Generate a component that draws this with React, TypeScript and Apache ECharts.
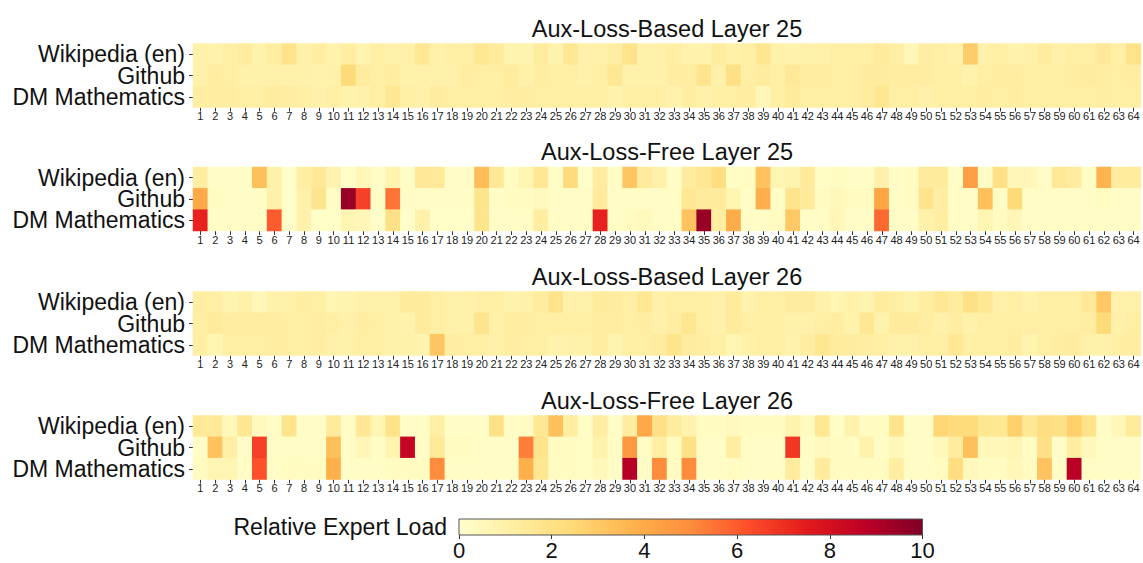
import React, { useEffect, useRef } from "react";
import * as echarts from "echarts";

// Expert indices 1..64
const experts: string[] = Array.from({ length: 64 }, (_, i) => String(i + 1));
const domains: string[] = ["Wikipedia (en)", "Github", "DM Mathematics"];
const panelTitles: string[] = [
  "Aux-Loss-Based Layer 25",
  "Aux-Loss-Free Layer 25",
  "Aux-Loss-Based Layer 26",
  "Aux-Loss-Free Layer 26",
];

// Relative expert load per domain
const basedL25Wiki = [1.0,0.9,1.1,1.3,0.9,1.2,1.9,1.0,1.2,0.9,1.2,0.8,1.1,1.0,1.0,1.6,1.0,1.1,1.1,1.6,1.4,0.8,0.8,1.3,0.9,1.6,1.0,1.0,1.2,1.9,1.0,1.0, 1.1,0.9,0.9,1.3,1.0,1.1,1.7,1.0,0.9,1.0,1.0,1.1,1.1,1.1,1.4,1.1,0.6,1.2,1.1,1.0,2.9,1.0,1.1,0.9,1.0,1.3,1.0,1.1,1.1,1.5,1.1,1.9];
const basedL25Github = [1.0,1.2,1.1,1.0,1.0,1.0,1.0,1.0,0.9,1.0,2.4,1.3,1.1,1.2,1.0,1.0,1.0,1.0,1.2,1.1,1.1,1.3,1.0,1.2,1.1,1.1,1.0,1.1,1.6,1.0,1.0,1.0, 1.2,1.2,1.8,1.0,2.0,1.1,1.3,1.1,1.5,1.2,1.2,1.1,1.1,1.3,1.3,1.2,1.2,1.2,1.1,1.1,0.9,1.1,1.2,1.2,1.1,1.1,1.1,1.2,1.3,1.2,1.1,1.2];
const basedL25Dm = [1.2,1.2,1.2,1.1,1.1,1.3,1.2,1.1,1.0,1.1,0.9,1.0,1.1,1.6,1.1,1.0,1.3,1.1,1.1,1.1,1.1,1.2,1.2,1.1,1.1,1.1,1.1,1.1,0.9,1.1,1.1,1.1, 0.9,1.2,1.0,1.1,1.1,1.2,0.6,1.1,1.4,1.1,1.1,1.1,1.1,1.3,1.7,1.1,1.1,1.0,1.1,1.1,1.1,1.2,1.1,1.2,1.1,1.1,1.1,1.1,1.1,1.2,1.1,1.1];

const freeL25Wiki = [1.2,0.2,0.2,0.2,3.3,1.0,0.1,1.1,1.5,0.8,0.1,0.6,0.2,0.8,0.2,1.5,1.5,0.2,0.2,3.4,1.5,0.3,0.7,1.6,0.2,2.3,0.1,1.3,0.2,3.1,1.4,1.0, 0.2,1.3,1.6,2.2,0.2,0.3,3.2,0.7,0.8,1.4,0.2,0.3,0.2,0.2,1.0,0.2,0.3,1.4,1.4,0.2,4.4,0.2,2.0,0.6,0.6,0.2,1.5,1.3,0.2,3.7,1.3,1.3];
const freeL25Github = [4.1,0.3,0.2,0.2,0.2,1.0,0.1,1.0,1.8,0.2,9.5,6.6,0.2,5.5,0.2,0.2,0.2,0.2,0.2,1.8,0.2,0.3,0.3,0.4,0.2,0.2,0.2,1.4,0.2,0.2,0.2,0.2, 0.2,1.6,1.4,1.4,0.7,0.2,3.9,0.2,1.8,1.4,0.3,0.5,0.3,0.3,4.2,0.2,0.3,1.8,1.2,0.2,0.2,3.3,0.2,2.4,0.2,0.2,0.2,0.2,0.2,0.3,0.2,0.2];
const freeL25Dm = [7.3,0.2,0.2,0.2,0.2,6.0,0.1,1.0,0.1,0.1,0.7,0.6,0.1,2.0,0.1,1.0,0.1,0.1,0.1,1.8,0.2,0.2,0.2,1.2,0.2,0.2,0.2,7.3,0.2,0.3,0.4,0.2, 0.2,3.2,9.5,1.2,4.0,0.2,0.2,0.3,3.0,0.2,0.2,0.6,0.2,0.2,5.7,0.2,0.2,1.0,1.2,0.2,0.2,0.7,0.3,0.6,0.2,0.2,0.2,0.2,0.2,0.2,0.2,0.2];

const basedL26Wiki = [1.2,1.1,0.8,1.0,0.6,1.0,1.0,1.2,1.1,0.7,0.8,1.0,1.0,1.0,1.4,1.4,1.1,1.0,1.0,1.1,1.1,0.9,1.0,1.3,1.9,1.0,1.0,1.4,1.3,1.1,1.6,1.0, 1.1,1.1,1.1,1.0,1.4,0.9,1.1,1.1,1.3,1.3,1.0,0.7,1.0,0.8,1.3,1.1,0.9,1.2,1.6,1.3,2.0,1.6,1.0,1.1,0.9,1.1,1.1,1.1,1.5,3.0,1.0,1.0];
const basedL26Github = [1.1,1.4,1.2,1.2,1.2,1.2,1.1,1.1,1.2,1.1,1.0,1.2,1.1,1.0,0.9,1.4,1.1,1.0,1.0,1.8,1.0,1.2,1.2,1.1,1.1,1.1,1.1,1.2,1.2,1.1,1.2,1.0, 1.2,1.7,1.1,1.0,1.4,1.1,1.1,1.1,1.0,1.0,1.1,1.2,0.9,1.6,0.9,1.4,1.4,1.2,1.0,1.2,1.0,1.1,1.1,1.1,1.1,1.1,1.1,1.1,1.2,2.4,1.0,1.1];
const basedL26Dm = [1.1,0.7,1.1,1.1,1.1,1.2,1.1,1.1,1.2,1.0,1.0,1.1,1.1,1.0,1.0,0.8,3.1,1.2,1.1,1.1,1.0,1.2,1.1,1.1,0.9,1.0,1.0,1.2,0.8,1.1,1.1,1.3, 1.8,1.3,1.2,1.1,0.7,1.0,1.1,1.1,0.9,1.2,1.7,1.3,1.3,1.2,1.1,1.0,1.0,1.1,1.1,1.6,1.1,1.1,1.1,1.2,0.8,1.1,1.2,1.3,1.0,1.0,1.1,1.2];

const freeL26Wiki = [1.5,1.5,0.5,1.6,0.4,0.2,1.8,0.2,0.2,1.4,0.2,1.6,0.7,1.9,0.2,0.2,1.1,0.2,0.2,0.2,2.0,0.2,0.3,1.6,3.3,1.2,0.2,1.2,0.2,1.3,4.1,2.0, 1.3,0.9,0.3,0.3,0.4,0.3,0.3,0.3,0.8,0.3,1.6,0.2,0.9,0.3,0.3,1.8,0.2,0.2,2.6,2.3,2.3,1.7,1.6,2.8,1.6,2.2,2.0,2.8,1.9,0.2,0.6,1.4];
const freeL26Github = [0.2,3.2,1.1,0.2,6.6,0.2,0.2,0.2,0.2,3.3,0.2,0.6,0.2,0.8,8.5,0.2,1.5,0.3,0.3,0.2,0.2,0.2,5.3,1.8,0.3,0.3,0.2,0.9,0.2,4.6,0.2,1.1, 0.3,2.0,0.2,0.2,1.2,0.2,0.2,0.2,6.8,0.2,0.4,0.3,0.3,0.9,0.2,0.5,0.2,0.2,0.5,1.3,3.3,0.5,0.5,0.7,0.3,2.0,0.2,1.2,0.5,0.2,0.2,0.2];
const freeL26Dm = [0.3,0.7,0.7,0.2,6.2,0.2,0.3,0.3,0.3,3.8,0.2,0.2,0.2,0.3,0.3,0.3,5.0,0.2,0.2,0.2,0.2,0.2,3.9,1.7,0.3,0.3,0.2,0.5,0.2,8.9,0.2,5.0, 0.3,5.0,0.2,0.2,0.3,0.2,0.2,0.2,1.3,0.2,1.4,0.3,0.3,0.3,0.3,1.2,0.2,0.2,0.3,2.2,0.5,0.3,0.3,0.6,0.3,3.2,0.2,8.8,0.2,0.2,0.2,0.2];

const colorbarTicks = [0, 2, 4, 6, 8, 10];

const panelRows: number[][][] = [
  [basedL25Wiki, basedL25Github, basedL25Dm],
  [freeL25Wiki, freeL25Github, freeL25Dm],
  [basedL26Wiki, basedL26Github, basedL26Dm],
  [freeL26Wiki, freeL26Github, freeL26Dm],
];

// YlOrRd palette
const YLORRD = ["#ffffcc", "#ffeda0", "#fed976", "#feb24c", "#fd8d3c", "#fc4e2a", "#e31a1c", "#bd0026", "#800026"];

const FONT = "'Liberation Sans', Arial, Helvetica, sans-serif";
const GRID_LEFT = 193;
const GRID_RIGHT = 2;
const GRID_TOPS = [43.5, 167, 291.5, 415.5];
const GRID_H = 64;
const CB = { x: 459, y: 519, w: 463.5, h: 16 };

export default function App() {
  const ref = useRef<HTMLDivElement>(null);

  useEffect(() => {
    if (!ref.current) return;
    const chart = echarts.init(ref.current, undefined, { renderer: "svg" });
    const centerX = GRID_LEFT + (1143 - GRID_LEFT - GRID_RIGHT) / 2;

    const grids: any[] = GRID_TOPS.map((top) => ({
      left: GRID_LEFT,
      right: GRID_RIGHT,
      top,
      height: GRID_H,
      containLabel: false,
    }));
    grids.push({ left: CB.x, top: CB.y, width: CB.w, height: CB.h });

    const xAxes: any[] = GRID_TOPS.map((_, i) => ({
      type: "category",
      gridIndex: i,
      data: experts,
      axisLine: { show: false },
      axisTick: { show: true, alignWithLabel: true, length: 4, lineStyle: { color: "#333" } },
      axisLabel: { fontSize: 11, color: "#222", fontFamily: FONT, margin: 3, interval: 0 },
      splitLine: { show: false },
    }));
    xAxes.push({
      type: "value",
      gridIndex: 4,
      min: 0,
      max: 10,
      interval: 2,
      axisLine: { show: false },
      axisTick: { show: true, length: 4, lineStyle: { color: "#333" } },
      axisLabel: { fontSize: 22, color: "#111", fontFamily: FONT, margin: 4, formatter: (v: number) => (colorbarTicks.includes(v) ? String(v) : "") },
      splitLine: { show: false },
    });

    const yAxes: any[] = GRID_TOPS.map((_, i) => ({
      type: "category",
      gridIndex: i,
      data: domains,
      inverse: true,
      axisLine: { show: false },
      axisTick: { show: true, alignWithLabel: true, length: 4, lineStyle: { color: "#333" } },
      axisLabel: {
        fontSize: 23,
        lineHeight: 20,
        color: "#111",
        fontFamily: FONT,
        margin: 8,
        interval: 0,
        hideOverlap: false,
      },
      splitLine: { show: false },
    }));
    yAxes.push({ type: "value", gridIndex: 4, show: false, min: 0, max: 1 });

    const series: any[] = panelRows.map((rows, i) => ({
      type: "heatmap",
      xAxisIndex: i,
      yAxisIndex: i,
      data: rows.flatMap((row, r) => row.map((v, c) => [c, r, v])),
      itemStyle: { borderWidth: 0 },
      emphasis: { disabled: true },
    }));

    const titles = panelTitles.map((t, i) => ({
      type: "text",
      x: centerX,
      y: GRID_TOPS[i] - 15,
      style: {
        text: t,
        fontSize: 23.5,
        fontFamily: FONT,
        fill: "#111",
        align: "center",
        verticalAlign: "middle",
      },
    }));

    chart.setOption({
      animation: false,
      backgroundColor: "#ffffff",
      grid: grids,
      xAxis: xAxes,
      yAxis: yAxes,
      visualMap: {
        type: "continuous",
        show: false,
        min: 0,
        max: 10,
        seriesIndex: [0, 1, 2, 3],
        inRange: { color: YLORRD },
      },
      series,
      graphic: [
        ...titles,
        {
          type: "rect",
          shape: { x: CB.x, y: CB.y, width: CB.w, height: CB.h },
          style: {
            fill: new echarts.graphic.LinearGradient(
              0, 0, 1, 0,
              YLORRD.map((c, i) => ({ offset: i / (YLORRD.length - 1), color: c }))
            ),
            stroke: "#555",
            lineWidth: 1,
          },
        },
        {
          type: "text",
          x: CB.x - 12,
          y: CB.y + CB.h / 2,
          style: {
            text: "Relative Expert Load",
            fontSize: 23,
            fontFamily: FONT,
            fill: "#111",
            align: "right",
            verticalAlign: "middle",
          },
        },
      ],
    });

    return () => chart.dispose();
  }, []);

  return (
    <div
      ref={ref}
      style={{ position: "fixed", left: 0, top: 0, width: 1143, height: 563, background: "#fff" }}
    />
  );
}
